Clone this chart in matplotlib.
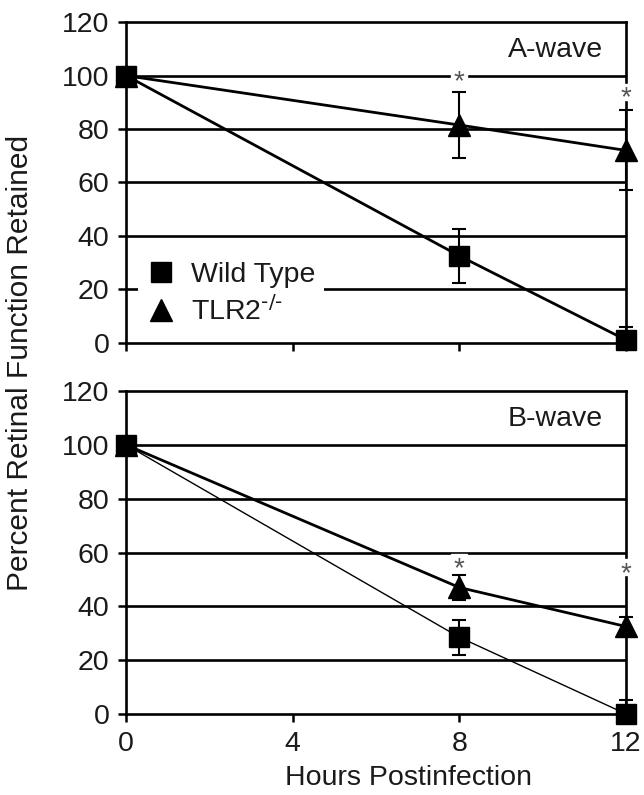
import numpy as np
import matplotlib.pyplot as plt
from matplotlib.lines import Line2D

# Retinal function data
hours = [0, 8, 12]

a_wt = [100, 32.5, 1]
a_wt_err = [0, 10, 5]
a_tlr2 = [100, 81.5, 72]
a_tlr2_err = [0, 12.5, 15]
a_stars = [(8, 100), (12, 94)]

b_wt = [100, 28.5, 0]
b_wt_err = [0, 6.5, 5]
b_tlr2 = [100, 47, 32.5]
b_tlr2_err = [0, 4.5, 3.5]
b_stars = [(8, 56.5), (12, 54.5)]

plt.rcParams['font.family'] = ['Liberation Sans', 'DejaVu Sans']
txt = '#1a1a1a'

fig = plt.figure(figsize=(6.44, 7.95), dpi=100)
ax1 = fig.add_axes([0.196, 0.569, 0.776, 0.403])
ax2 = fig.add_axes([0.196, 0.102, 0.776, 0.406])


def style(ax, show_xlabels):
    ax.set_xlim(0, 12)
    ax.set_ylim(0, 120)
    ax.set_xticks([0, 4, 8, 12])
    ax.set_yticks(range(0, 121, 20))
    for y in range(20, 120, 20):
        ax.axhline(y, color='black', lw=1.9, zorder=1)
    for s in ax.spines.values():
        s.set_linewidth(1.9)
        s.set_zorder(2)
    ax.tick_params(direction='out', length=6, width=1.8, labelsize=20.5,
                   colors='black', labelcolor=txt, pad=6)
    if not show_xlabels:
        ax.tick_params(axis='x', labelbottom=False)


def err_bars(ax, vals, err):
    # error bars stop at the x axis
    vals = np.array(vals)
    err = np.array(err)
    lower = np.minimum(err, vals)
    ax.errorbar(hours, vals, yerr=[lower, err], fmt='none', ecolor='black',
                elinewidth=1.5, capsize=5, capthick=1.5, zorder=3, clip_on=False)


def draw(ax, wt, wt_err, tlr, tlr_err, wt_lw, stars, label):
    err_bars(ax, tlr, tlr_err)
    err_bars(ax, wt, wt_err)
    ax.plot(hours, tlr, color='black', lw=2, marker='^', ms=15.5,
            zorder=4, clip_on=False)
    ax.plot(hours, wt, color='black', lw=wt_lw, marker='s', ms=15,
            zorder=4, clip_on=False)
    # significance stars on a small white patch
    sx = [s[0] for s in stars]
    sy = [s[1] for s in stars]
    ax.plot(sx, sy, ls='none', marker='s', ms=12, color='white', zorder=5,
            clip_on=False)
    for x, y in stars:
        ax.annotate('*', (x, y), xytext=(0, -5), textcoords='offset points',
                    ha='center', va='center', fontsize=20, color='#555555',
                    zorder=6, annotation_clip=False)
    ax.text(11.45, 109.5, label, ha='right', va='center', fontsize=20.5, color=txt)


style(ax1, False)
style(ax2, True)

draw(ax1, a_wt, a_wt_err, a_tlr2, a_tlr2_err, 2, a_stars, 'A-wave')
draw(ax2, b_wt, b_wt_err, b_tlr2, b_tlr2_err, 1, b_stars, 'B-wave')

handles = [Line2D([], [], ls='none', marker='s', ms=15, color='black'),
           Line2D([], [], ls='none', marker='^', ms=15.5, color='black')]
leg = ax1.legend(handles, ['Wild Type', r'TLR2$^{\text{-/-}}$'], loc='center left',
                 bbox_to_anchor=(-0.005, 0.152), fontsize=20.5, frameon=True,
                 facecolor='white', edgecolor='none', framealpha=1,
                 handlelength=1.0, handletextpad=0.55, labelspacing=0.3,
                 borderpad=0.3, fancybox=False)
for t in leg.get_texts():
    t.set_color(txt)
leg.set_zorder(7)

fig.text(0.031, 0.543, 'Percent Retinal Function Retained', rotation=90,
         ha='center', va='center', fontsize=21.5, color=txt)
fig.text(0.635, 0.021, 'Hours Postinfection', ha='center', va='center',
         fontsize=20.5, color=txt)

fig.savefig('out.png', dpi=100)
